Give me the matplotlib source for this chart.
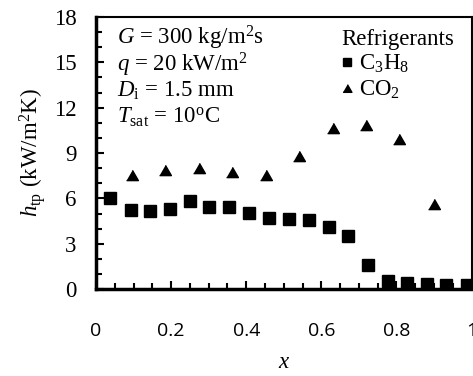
import numpy as np
import matplotlib.pyplot as plt
from matplotlib.ticker import MultipleLocator

plt.rcParams['font.family'] = ['Liberation Serif', 'DejaVu Serif']
plt.rcParams['mathtext.fontset'] = 'custom'
plt.rcParams['mathtext.rm'] = 'Liberation Serif'
plt.rcParams['mathtext.it'] = 'Liberation Serif:italic'

# vapour quality and heat transfer coefficient, kW/m2K
x_c3h8 = [0.037, 0.092, 0.144, 0.197, 0.250, 0.301, 0.355, 0.407, 0.460, 0.513,
          0.566, 0.620, 0.670, 0.723, 0.777, 0.827, 0.880, 0.933, 0.987]
h_c3h8 = [6.00, 5.23, 5.16, 5.28, 5.83, 5.41, 5.45, 5.03, 4.70, 4.63,
          4.57, 4.10, 3.51, 1.59, 0.53, 0.40, 0.33, 0.26, 0.26]

x_co2 = [0.095, 0.185, 0.274, 0.362, 0.452, 0.541, 0.631, 0.720, 0.808, 0.899]
h_co2 = [7.55, 7.88, 8.03, 7.76, 7.55, 8.80, 10.68, 10.86, 9.91, 5.63]

xticks = [0, 0.2, 0.4, 0.6, 0.8, 1]
xtick_labels = ['0', '0.2', '0.4', '0.6', '0.8', '1']
yticks = [0, 3, 6, 9, 12, 15, 18]

conditions = ['$G$ = 300 kg/m$^2$s',
              '$q$ = 20 kW/m$^2$',
              '$D_{\\rm i}$ = 1.5 mm',
              '$T_{\\rm sat}$ = 10$^{\\rm o}$C']

tri = [(-1, -0.866), (1, -0.866), (0, 0.866)]

fig = plt.figure(figsize=(4.73, 3.76), dpi=100)
ax = fig.add_axes([0.203, 0.231, 0.794, 0.724])

ax.plot(x_c3h8, h_c3h8, ls='none', marker='s', ms=8, color='black',
        label='C$_3$H$_8$')
ax.plot(x_co2, h_co2, ls='none', marker=tri, ms=8.5, color='black',
        label='CO$_2$')

ax.set_xlim(0, 1)
ax.set_ylim(0, 18)
ax.set_xticks(xticks)
ax.set_xticklabels(xtick_labels, family='Open Sans', fontsize=14)
ax.xaxis.set_minor_locator(MultipleLocator(0.05))
ax.set_yticks(yticks)
ax.yaxis.set_minor_locator(MultipleLocator(1))
ax.tick_params(axis='y', which='both', labelsize=16.5)
ax.tick_params(which='major', direction='in', length=6, width=1.5)
ax.tick_params(which='minor', direction='in', length=4, width=1.5)
ax.tick_params(axis='x', which='major', pad=24)
ax.tick_params(axis='y', which='major', pad=14)

for side in ['left', 'bottom']:
    ax.spines[side].set_linewidth(2.5)
for side in ['top', 'right']:
    ax.spines[side].set_linewidth(1.5)

ax.set_xlabel('$x$', fontsize=16.5, labelpad=8)
ax.set_ylabel('$h_{\\rm tp}$ (kW/m$^2$K)', fontsize=16.5, labelpad=4)

for i, s in enumerate(conditions):
    ax.text(0.055, 0.922 - i * 0.097, s, transform=ax.transAxes,
            fontsize=16.5, va='center', ha='left')

leg = ax.legend(title='Refrigerants', loc='upper right',
                bbox_to_anchor=(1.0, 1.02), frameon=False,
                fontsize=16.5, title_fontsize=16.5, handlelength=0.45,
                handletextpad=0.3, labelspacing=0.15, markerscale=0.75,
                borderaxespad=0.45, borderpad=0.3, alignment='left')

fig.savefig('out.png', dpi=100)
